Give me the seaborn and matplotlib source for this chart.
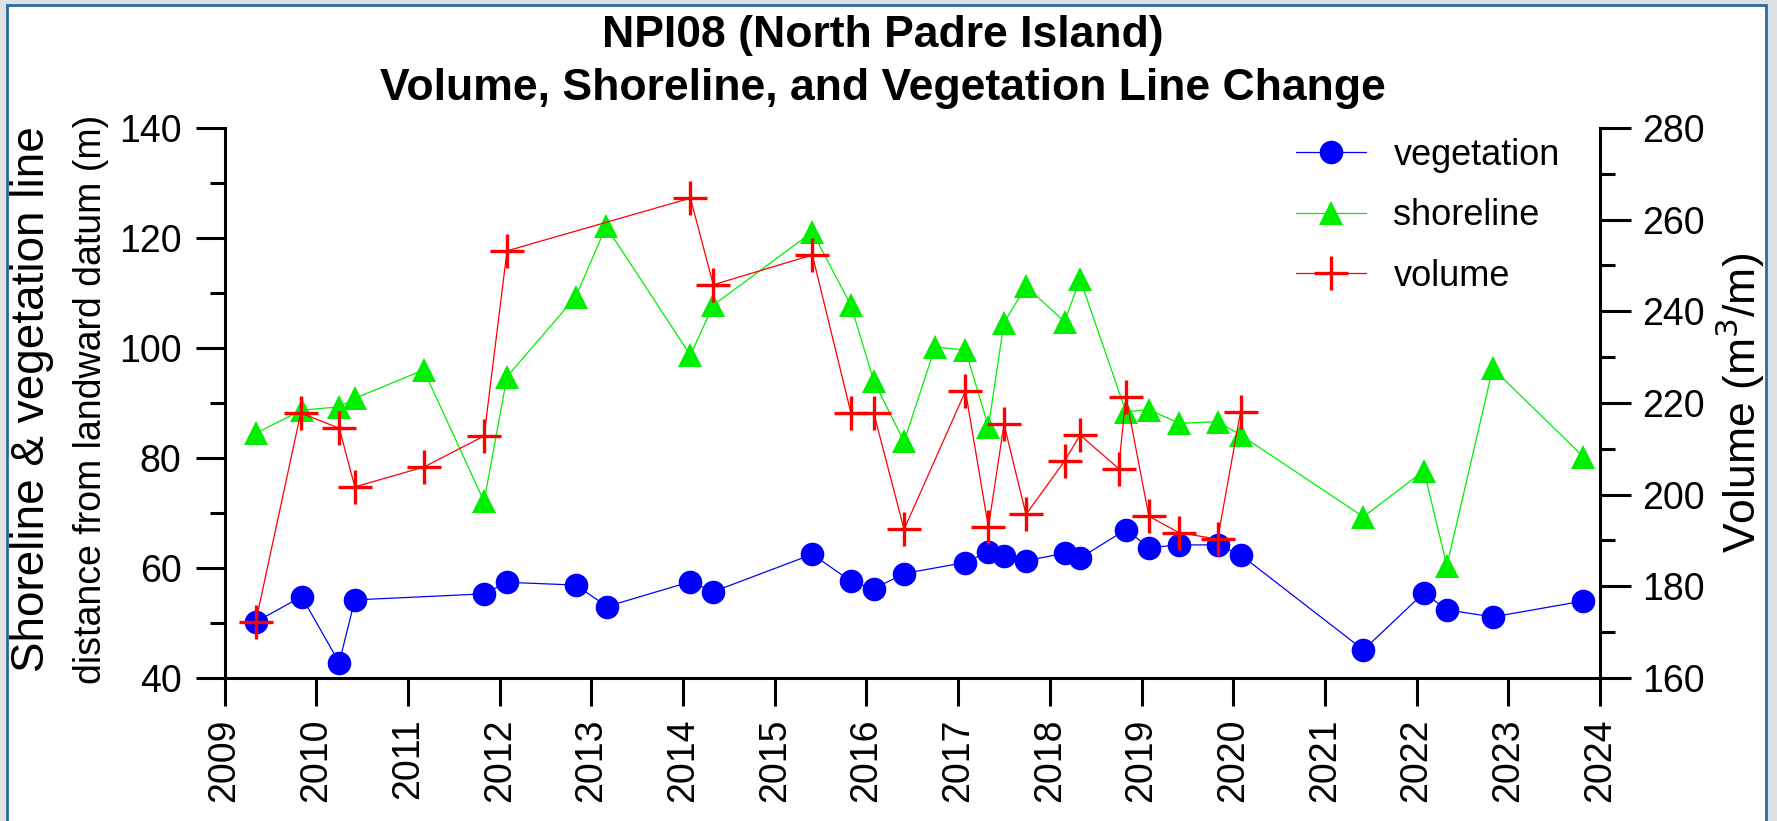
import numpy as np
import matplotlib
matplotlib.use("Agg")
import matplotlib.pyplot as plt
import seaborn as sns
from matplotlib.lines import Line2D
from matplotlib.patches import Rectangle
from matplotlib.ticker import MultipleLocator

# survey dates (decimal years) and values
veg_date = [2009.34, 2009.84, 2010.25, 2010.42, 2011.83, 2012.08, 2012.83, 2013.17,
            2014.08, 2014.33, 2015.41, 2015.83, 2016.08, 2016.41, 2017.08, 2017.33,
            2017.50, 2017.74, 2018.16, 2018.33, 2018.83, 2019.08, 2019.41, 2019.83,
            2020.08, 2021.42, 2022.08, 2022.33, 2022.83, 2023.82]
veg = [50.2, 54.8, 42.8, 54.2, 55.3, 57.4, 56.9, 53.0,
       57.5, 55.7, 62.5, 57.6, 56.2, 59.0, 61.0, 63.0,
       62.1, 61.3, 62.7, 61.8, 67.0, 63.7, 64.2, 64.2,
       62.4, 45.1, 55.5, 52.4, 51.1, 54.0]

shore_date = [2009.34, 2009.84, 2010.25, 2010.42, 2011.17, 2011.83, 2012.08, 2012.83,
              2013.16, 2014.08, 2014.33, 2015.41, 2015.83, 2016.08, 2016.41, 2016.75,
              2017.08, 2017.33, 2017.50, 2017.74, 2018.16, 2018.33, 2018.83, 2019.08,
              2019.41, 2019.83, 2020.08, 2021.42, 2022.08, 2022.33, 2022.83, 2023.82]
shore = [84.5, 88.7, 89.3, 90.85, 96.0, 72.1, 94.8, 109.3,
         122.1, 98.7, 107.8, 121.1, 107.8, 94.0, 83.0, 100.2,
         99.6, 85.7, 104.6, 111.2, 104.8, 112.5, 88.4, 88.8,
         86.3, 86.6, 84.2, 69.3, 77.7, 60.4, 96.3, 80.2]

vol_date = [2009.34, 2009.83, 2010.25, 2010.42, 2011.17, 2011.83, 2012.08, 2014.08,
            2014.33, 2015.41, 2015.83, 2016.08, 2016.41, 2017.08, 2017.33, 2017.50,
            2017.74, 2018.16, 2018.33, 2018.75, 2018.83, 2019.08, 2019.41, 2019.83,
            2020.08]
vol = [172.3, 217.8, 214.5, 201.7, 206.0, 212.8, 253.2, 264.7,
       245.8, 252.3, 217.9, 217.8, 192.4, 222.6, 192.9, 215.4,
       195.7, 207.3, 213.0, 205.7, 221.4, 195.3, 191.7, 190.3,
       218.1]

years = list(range(2009, 2025))

sns.set_theme(style="ticks")
plt.rcParams['font.family'] = ['Liberation Sans', 'DejaVu Sans']
plt.rcParams['text.color'] = 'black'

W, H = 1777, 821
fig = plt.figure(figsize=(W / 100, H / 100), dpi=100, facecolor='#dde3e5')
# white panel with a blue frame like the source window
fig.patches.append(Rectangle((7 / W, -0.05), (1766 - 7) / W, 1.05 - 5 / H,
                             transform=fig.transFigure, facecolor='white',
                             edgecolor='#2a6a9a', linewidth=2.0, zorder=-10))

ax = fig.add_axes([224.6 / W, 1 - 678 / H, (1600 - 224.6) / W, (678 - 128) / H])
ax.set_facecolor('none')
ax2 = ax.twinx()

blue, green, red = '#0000ff', '#00ee00', '#ff0000'
veg_style = dict(color=blue, lw=0.9, marker='o', markersize=17, mec=blue, mew=0)
shore_style = dict(color=green, lw=0.9, marker='^', markersize=17, mec=green, mew=0)
vol_style = dict(color=red, lw=0.9, marker='+', markersize=24, mec=red, mew=2.4)

sns.lineplot(x=veg_date, y=veg, ax=ax, estimator=None, sort=False, **veg_style)
sns.lineplot(x=shore_date, y=shore, ax=ax, estimator=None, sort=False, **shore_style)
sns.lineplot(x=vol_date, y=vol, ax=ax2, estimator=None, sort=False, **vol_style)

ax.set_xlim(2009, 2024)
ax.set_ylim(40, 140)
ax2.set_ylim(160, 280)
ax.set_xticks(years)
ax.set_xticklabels([str(y) for y in years], rotation=90)
ax.yaxis.set_major_locator(MultipleLocator(20))
ax.yaxis.set_minor_locator(MultipleLocator(10))
ax2.yaxis.set_major_locator(MultipleLocator(20))
ax2.yaxis.set_minor_locator(MultipleLocator(10))

for a in (ax, ax2):
    a.spines['top'].set_visible(False)
    for s in a.spines.values():
        s.set_linewidth(2.2)
        s.set_color('black')
    a.set_xlabel('')
    a.set_ylabel('')
ax.spines['right'].set_visible(False)
ax2.spines['left'].set_visible(False)
ax2.spines['bottom'].set_visible(False)

ax.tick_params(axis='both', which='major', direction='out', width=2.2, labelsize=27, colors='black')
ax.tick_params(axis='y', which='major', length=21, pad=10)
ax.tick_params(axis='y', which='minor', length=11, width=2.2, colors='black')
ax.tick_params(axis='x', which='major', length=20, pad=9)
ax2.tick_params(axis='y', which='major', length=22, width=2.2, pad=8, labelsize=27, colors='black')
ax2.tick_params(axis='y', which='minor', length=11, width=2.2, colors='black')

fig.text(0.497, 1 - 47 / H, 'NPI08 (North Padre Island)',
         ha='center', va='baseline', fontsize=32, fontweight='bold', color='black')
fig.text(0.497, 1 - 100 / H, 'Volume, Shoreline, and Vegetation Line Change',
         ha='center', va='baseline', fontsize=32, fontweight='bold', color='black')
fig.text(32 / W, 1 - 399 / H, 'Shoreline & vegetation line', rotation=90,
         ha='center', va='center', fontsize=33, color='black')
fig.text(91 / W, 1 - 399 / H, 'distance from landward datum (m)', rotation=90,
         ha='center', va='center', fontsize=27, color='black')
fig.text(1740 / W, 1 - 403 / H, 'Volume (m$^3$/m)', rotation=90,
         ha='center', va='center', fontsize=32, color='black')

handles = [Line2D([], [], **veg_style), Line2D([], [], **shore_style), Line2D([], [], **vol_style)]
ax2.legend(handles, ['vegetation', 'shoreline', 'volume'], loc='upper left',
           bbox_to_anchor=(1296 / W, 1 - 138 / H), bbox_transform=fig.transFigure,
           frameon=False, fontsize=26, handlelength=1.95, handletextpad=0.75,
           labelspacing=0.7, borderpad=0, borderaxespad=0, labelcolor='black')

fig.savefig('out.png', dpi=100, facecolor=fig.get_facecolor())
